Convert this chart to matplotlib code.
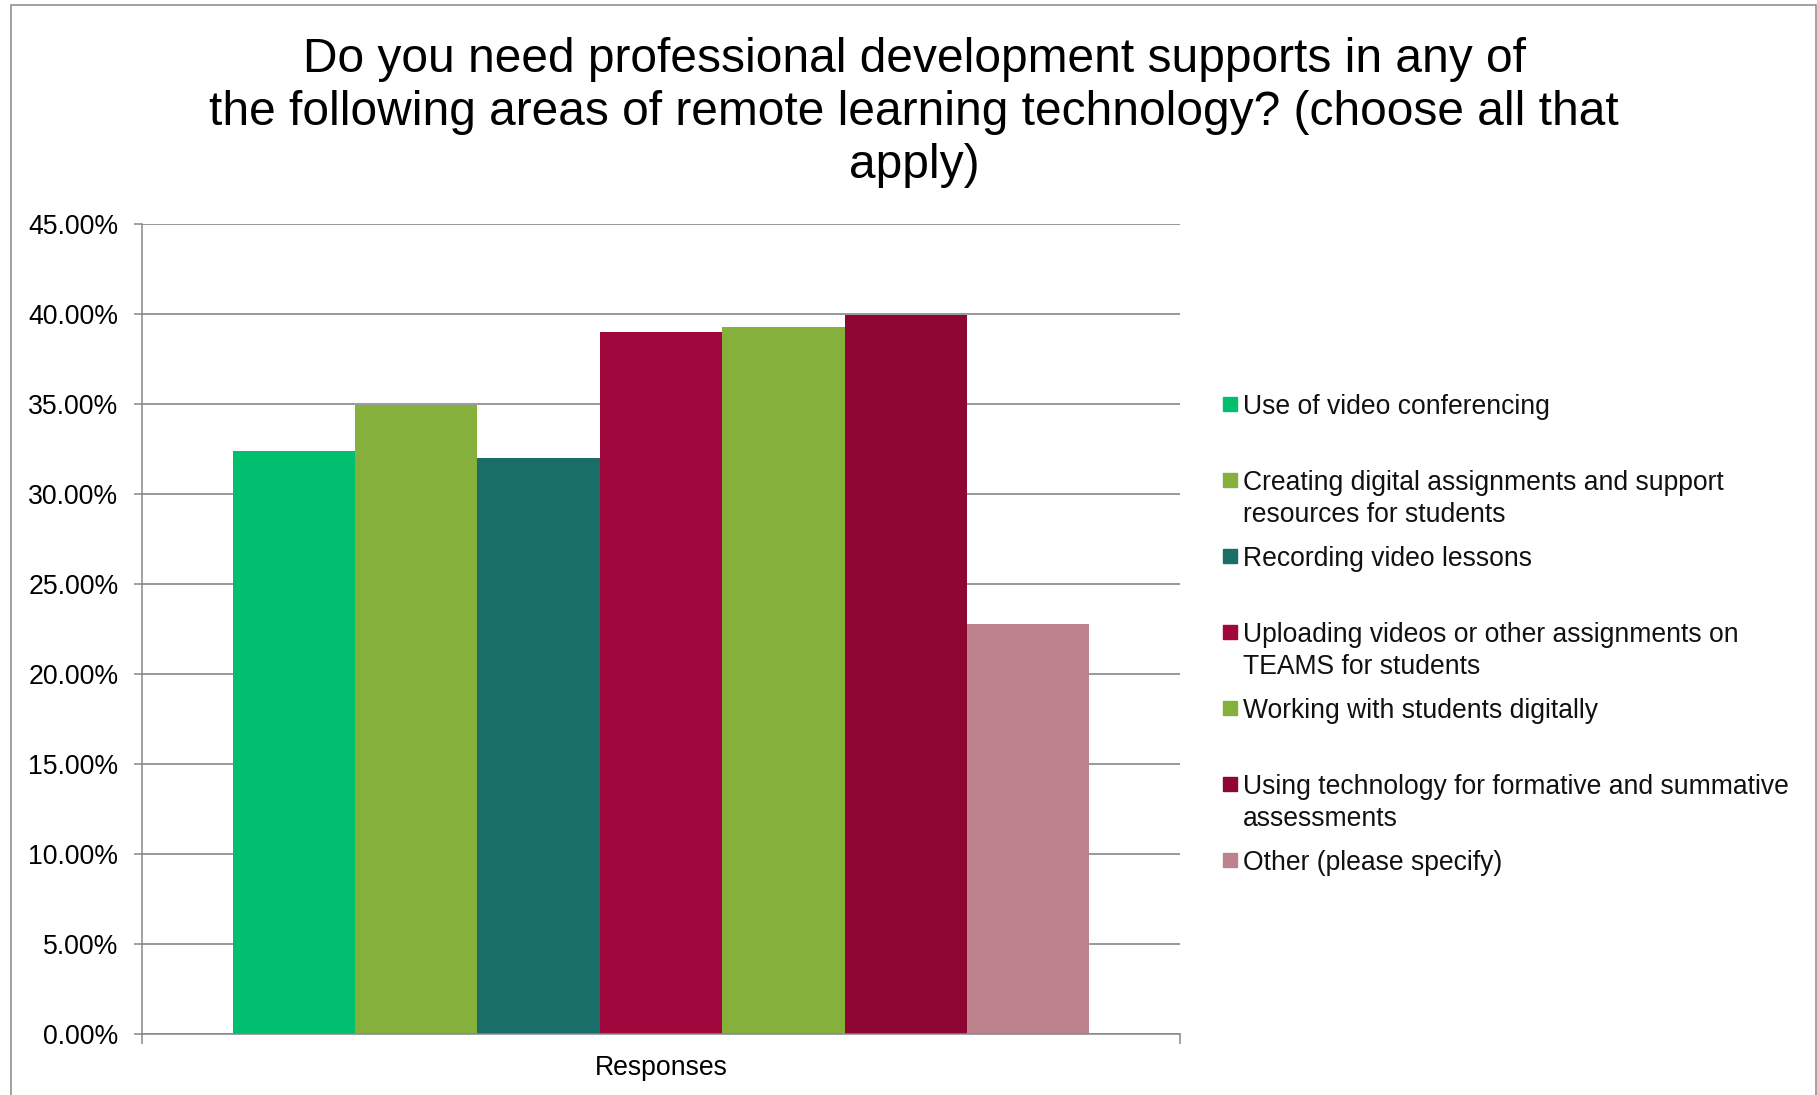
import matplotlib
matplotlib.use("Agg")
import matplotlib.pyplot as plt
from matplotlib.patches import Rectangle
from matplotlib.ticker import FuncFormatter

plt.rcParams['font.family'] = ['Liberation Sans', 'DejaVu Sans']

title = ("Do you need professional development supports in any of\n"
         "the following areas of remote learning technology? (choose all that\n"
         "apply)")
category = "Responses"
labels = ["Use of video conferencing",
          "Creating digital assignments and support\nresources for students",
          "Recording video lessons",
          "Uploading videos or other assignments on\nTEAMS for students",
          "Working with students digitally",
          "Using technology for formative and summative\nassessments",
          "Other (please specify)"]
values = [32.37, 34.93, 31.98, 38.98, 39.26, 39.93, 22.76]
colors = ["#00BF6F", "#84B03B", "#1A6E68", "#A0073C", "#84B03B", "#8E0634", "#BC838C"]
yticks = [0, 5, 10, 15, 20, 25, 30, 35, 40, 45]

W, H = 1817, 1095
fig = plt.figure(figsize=(W / 100, H / 100), dpi=100)
grey = "#878787"

# outer chart border
fig.patches.append(Rectangle((11 / W, -0.02), (1816 - 11) / W, 1 - 5 / H + 0.02,
                             transform=fig.transFigure, fill=False,
                             edgecolor=grey, linewidth=1.1))

ax = fig.add_axes([142 / W, 1 - 1034 / H, (1180 - 142) / W, (1034 - 224) / H])
w = 0.1179
n = len(values)
for i, (v, c) in enumerate(zip(values, colors)):
    ax.bar((i - (n - 1) / 2) * w, v, width=w, color=c, zorder=3)

ax.set_xlim(-0.5, 0.5)
ax.set_ylim(0, 45)
ax.set_yticks(yticks)
ax.yaxis.set_major_formatter(FuncFormatter(lambda v, p: f"{v:.2f}%"))
ax.set_xticks([-0.5, 0.5])
ax.set_xticklabels(["", ""])
ax.tick_params(axis='x', length=7, width=1.1, color=grey, direction='out')
ax.tick_params(axis='y', length=6, width=1.1, color=grey, direction='out',
               labelsize=19.2, pad=11)
ax.grid(axis='y', color=grey, linewidth=1.2, zorder=0)
for s in ["top", "right"]:
    ax.spines[s].set_visible(False)
for s in ["left", "bottom"]:
    ax.spines[s].set_color(grey)
    ax.spines[s].set_linewidth(1.1)
ax.spines["bottom"].set_zorder(4)

fig.text(661 / W, 1 - 1068 / H, category, ha='center', va='center', fontsize=19.2)
fig.text(914 / W, 1 - 112.5 / H, title, ha='center', va='center', fontsize=34.5,
         linespacing=1.225)

# legend
for i, (lab, c) in enumerate(zip(labels, colors)):
    yc = 404 + 76 * i
    fig.patches.append(Rectangle((1223 / W, 1 - (yc + 7) / H), 14 / W, 14 / H,
                                 transform=fig.transFigure, color=c))
    fig.text(1243 / W, 1 - (yc - 10) / H, lab, ha='left', va='top', fontsize=19.1,
             linespacing=1.3, color="#111111")

fig.savefig("out.png", dpi=100)
